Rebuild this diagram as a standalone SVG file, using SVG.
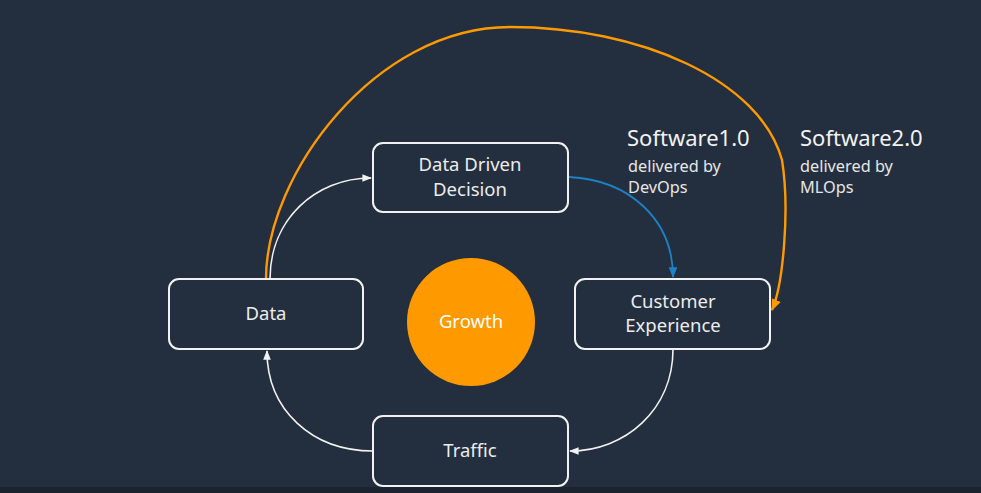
<svg xmlns="http://www.w3.org/2000/svg" width="981" height="493" viewBox="0 0 981 493">
<defs>
<style>
.box{fill:#232f3e;stroke:#f2f2f2;stroke-width:2}
.lbl{font-family:"Noto Sans","Open Sans",sans-serif;font-size:18.5px;fill:#ececec;text-anchor:middle}
.big{font-family:"Noto Sans","Open Sans",sans-serif;font-size:22px;fill:#f2f2f2}
.small{font-family:"Noto Sans","Open Sans",sans-serif;font-size:16.3px;fill:#e6e6e6}
.w{fill:none;stroke:#f2f2f2;stroke-width:1.6}
</style>
<marker id="aw" viewBox="0 0 10 10" refX="9" refY="5" markerWidth="6" markerHeight="6" orient="auto"><path d="M0,1 L10,5 L0,9 z" fill="#f2f2f2"/></marker>
<marker id="ab" viewBox="0 0 10 10" refX="9" refY="5" markerWidth="6" markerHeight="6" orient="auto"><path d="M0,1 L10,5 L0,9 z" fill="#1c82c6"/></marker>
<marker id="ao" viewBox="0 0 10 10" refX="9" refY="5" markerWidth="5" markerHeight="5" orient="auto"><path d="M0,1 L10,5 L0,9 z" fill="#fe9900"/></marker>
</defs>
<rect width="981" height="493" fill="#232f3e"/>
<rect y="487" width="981" height="6" fill="#1b232e"/>
<g id="connectors">
<path class="w" d="M270,279 C270,220 315,178 371,178" marker-end="url(#aw)"/>
<path d="M569,177 C630,180 673,220 673,277" fill="none" stroke="#1c82c6" stroke-width="1.8" marker-end="url(#ab)"/>
<path class="w" d="M673,349 C673,410 625,451 570,451" marker-end="url(#aw)"/>
<path class="w" d="M373,451 C312,451 267,410 267,351" marker-end="url(#aw)"/>
<path d="M266,279 C266,175 375,27 510,27 C640,27 760,80 782,160 C790,210 783,285 772,310" fill="none" stroke="#fe9900" stroke-width="2.4" marker-end="url(#ao)"/>
</g>
<g id="ddd"><rect class="box" x="373" y="143" width="195" height="69" rx="10"/><text class="lbl" x="470" y="171">Data Driven</text><text class="lbl" x="470" y="196">Decision</text></g>
<g id="data"><rect class="box" x="169" y="279" width="194" height="70" rx="10"/><text class="lbl" x="266" y="320">Data</text></g>
<g id="cx"><rect class="box" x="575" y="279" width="195" height="70" rx="10"/><text class="lbl" x="673" y="308">Customer</text><text class="lbl" x="673" y="332">Experience</text></g>
<g id="traffic"><rect class="box" x="373" y="416" width="195" height="70" rx="10"/><text class="lbl" x="470" y="457">Traffic</text></g>
<g id="growth"><circle cx="471" cy="322" r="64" fill="#fe9900"/><text class="lbl" x="471" y="328" style="fill:#ffffff">Growth</text></g>
<g id="sw1"><text class="big" x="627" y="146">Software1.0</text><text class="small" x="628" y="172">delivered by</text><text class="small" x="628" y="193">DevOps</text></g>
<g id="sw2"><text class="big" x="800" y="146">Software2.0</text><text class="small" x="800" y="172">delivered by</text><text class="small" x="800" y="193">MLOps</text></g>
</svg>
